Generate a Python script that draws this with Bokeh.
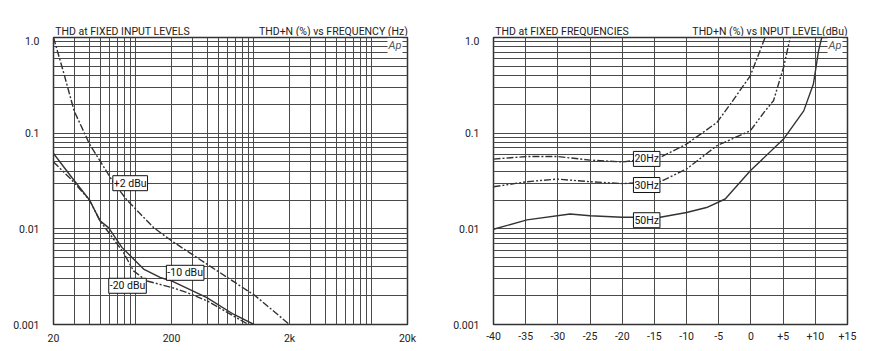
from bokeh.plotting import figure
from bokeh.models import FixedTicker, Label
from bokeh.layouts import row, column
from bokeh.embed import file_html
from bokeh.resources import INLINE

FONT = "Roboto"
INK = "#333333"
GRID = "#4a4a4a"
TXT = "#222222"

# ---------------- Left chart data: THD+N (%) vs frequency (Hz) ----------------
freq_plus2 = [20, 24.4, 29.9, 40.4, 64.4, 83.8, 141, 200, 399, 1024, 2000]
thd_plus2 = [1.0, 0.428, 0.171, 0.0769, 0.0305, 0.020, 0.0103, 0.0075, 0.00428, 0.0020, 0.001]

freq_minus10 = [20, 28.6, 40.4, 49.6, 58.5, 76, 116, 160, 200, 399, 670, 1000]
thd_minus10 = [0.0613, 0.0344, 0.020, 0.0121, 0.0103, 0.0064, 0.0038, 0.0031, 0.00286, 0.00191, 0.00128, 0.001]

freq_minus20 = [20, 28.6, 40.4, 49.6, 78.3, 95.3, 123, 200, 270, 399, 670, 898]
thd_minus20 = [0.050, 0.0324, 0.020, 0.0121, 0.00566, 0.00364, 0.00286, 0.00244, 0.00216, 0.00177, 0.00123, 0.001]

freq_ticks = [20, 200, 2000, 20000]
freq_tick_labels = ["20", "200", "2k", "20k"]
freq_grid = [20, 30, 40, 50, 60, 70, 80, 90, 100, 200, 300, 400, 500, 600, 700, 800, 900,
             1000, 2000, 3000, 4000, 5000, 6000, 7000, 8000, 9000, 10000, 20000]

thd_ticks = [0.001, 0.01, 0.1, 1.0]
thd_tick_labels = ["0.001", "0.01", "0.1", "1.0"]
thd_grid = [0.001, 0.002, 0.003, 0.004, 0.005, 0.006, 0.007, 0.008, 0.009,
            0.01, 0.02, 0.03, 0.04, 0.05, 0.06, 0.07, 0.08, 0.09,
            0.1, 0.2, 0.3, 0.4, 0.5, 0.6, 0.7, 0.8, 0.9, 1.0]

left_labels = ["+2 dBu", "-10 dBu", "-20 dBu"]
left_label_x = [89.3, 261, 84.8]
left_label_y = [0.030, 0.00347, 0.00254]

# ---------------- Right chart data: THD+N (%) vs input level (dBu) ----------------
lvl_20hz = [-40, -34.8, -30.1, -25, -20, -14.1, -10, -5.3, -3.2, -0.1, 2.2]
thd_20hz = [0.0536, 0.0570, 0.057, 0.0523, 0.050, 0.0558, 0.077, 0.129, 0.201, 0.398, 1.0]

lvl_30hz = [-40, -34.8, -30.1, -25, -20, -14.1, -10, -5.3, -0.1, 2.2, 3.5, 5.06, 6.1]
thd_30hz = [0.0275, 0.0311, 0.0331, 0.0311, 0.0297, 0.0311, 0.0422, 0.0739, 0.106, 0.171, 0.218, 0.486, 1.0]

lvl_50hz = [-40, -34.8, -28.1, -25, -20, -14.1, -10, -6.9, -4.0, -0.1, 5.06, 8.2, 9.7, 10.5, 11.0]
thd_50hz = [0.0099, 0.0124, 0.0143, 0.0137, 0.0132, 0.0132, 0.0148, 0.0167, 0.0205, 0.0404, 0.0868, 0.171, 0.326, 0.726, 1.0]

level_ticks = [-40, -35, -30, -25, -20, -15, -10, -5, 0, 5, 10, 15]
level_tick_labels = ["-40", "-35", "-30", "-25", "-20", "-15", "-10", "-5", "0", "+5", "+10", "+15"]

right_labels = ["20Hz", "30Hz", "50Hz"]
right_label_x = [-16.2, -16.2, -16.2]
right_label_y = [0.0538, 0.0287, 0.0123]

titles_left = ["THD at FIXED INPUT LEVELS", "THD at FIXED FREQUENCIES"]
titles_right = ["THD+N (%) vs FREQUENCY (Hz)", "THD+N (%) vs INPUT LEVEL(dBu)"]

DASH_DOT = "7 2 2 2"
DASH_DOT_DOT = "7 2 2 2 2 2"

TITLE_H = 36

# ---------------- title strip ----------------
tf = figure(width=871, height=TITLE_H, x_range=(0, 871), y_range=(0, TITLE_H),
            min_border=0, output_backend="svg", toolbar_location=None)
tf.axis.visible = False
tf.grid.visible = False
tf.outline_line_color = None
tf.background_fill_color = "white"
tf.border_fill_color = "white"
for i, (tl, tr) in enumerate(zip(titles_left, titles_right)):
    x0 = 53.3 + i * 440
    tf.add_layout(Label(x=x0 + 1.5, y=TITLE_H - 30.5, text=tl, text_font=FONT,
                        text_font_size="10.5px", text_color=TXT,
                        text_baseline="middle", text_align="left"))
    tf.add_layout(Label(x=x0 + 354, y=TITLE_H - 30.5, text=tr, text_font=FONT,
                        text_font_size="10.5px", text_color=TXT,
                        text_baseline="middle", text_align="right"))


def make_fig(x_type, x_range, border_right):
    p = figure(frame_width=354, frame_height=287, x_axis_type=x_type, y_axis_type="log",
               x_range=x_range, y_range=(0.001, 1.0),
               min_border_left=53, min_border_right=border_right,
               min_border_top=1, min_border_bottom=351 - TITLE_H - 1 - 287,
               output_backend="svg", toolbar_location=None)
    p.background_fill_color = "white"
    p.border_fill_color = "white"
    p.outline_line_color = INK
    p.outline_line_width = 1.5

    yt = FixedTicker(ticks=thd_ticks, minor_ticks=thd_grid)
    p.yaxis.ticker = yt
    p.ygrid.ticker = yt
    p.yaxis.major_label_overrides = {v: s for v, s in zip(thd_ticks, thd_tick_labels)}

    for ax in (p.xaxis[0], p.yaxis[0]):
        ax.axis_line_color = None
        ax.major_tick_line_color = None
        ax.minor_tick_line_color = None
        ax.major_label_text_font = FONT
        ax.major_label_text_font_size = "10.5px"
        ax.major_label_text_color = TXT
    p.yaxis.major_label_standoff = 8
    p.xaxis.major_label_standoff = 1

    for g in (p.xgrid[0], p.ygrid[0]):
        g.grid_line_color = GRID
        g.grid_line_width = 1
        g.minor_grid_line_color = GRID
        g.minor_grid_line_width = 1

    p.add_layout(Label(x=349, y=279, x_units="screen", y_units="screen", text="Ap",
                       text_font=FONT, text_font_style="italic", text_font_size="11px",
                       text_color="#555555", text_baseline="middle", text_align="right",
                       background_fill_color="white", padding=1))
    return p


def add_box_labels(p, texts, xs, ys):
    for t, x, y in zip(texts, xs, ys):
        p.add_layout(Label(x=x, y=y, text=t, text_font=FONT, text_font_size="10.5px",
                           text_color="#111111", text_align="center", text_baseline="middle",
                           background_fill_color="white", border_line_color="#111111",
                           border_line_width=1, padding=1))


# Left chart
p1 = make_fig("log", (20, 20000), 33)
xt = FixedTicker(ticks=freq_ticks, minor_ticks=freq_grid)
p1.xaxis.ticker = xt
p1.xgrid.ticker = xt
p1.xaxis.major_label_overrides = {v: s for v, s in zip(freq_ticks, freq_tick_labels)}

p1.line(freq_plus2, thd_plus2, line_color=INK, line_width=1.4, line_dash=DASH_DOT)
p1.line(freq_minus10, thd_minus10, line_color=INK, line_width=1.4)
p1.line(freq_minus20, thd_minus20, line_color=INK, line_width=1.4, line_dash=DASH_DOT_DOT)
add_box_labels(p1, left_labels, left_label_x, left_label_y)

# Right chart
p2 = make_fig("linear", (-40, 15), 24)
lt = FixedTicker(ticks=level_ticks)
p2.xaxis.ticker = lt
p2.xgrid.ticker = lt
p2.xaxis.major_label_overrides = {v: s for v, s in zip(level_ticks, level_tick_labels)}

p2.line(lvl_20hz, thd_20hz, line_color=INK, line_width=1.4, line_dash=DASH_DOT)
p2.line(lvl_30hz, thd_30hz, line_color=INK, line_width=1.4, line_dash=DASH_DOT_DOT)
p2.line(lvl_50hz, thd_50hz, line_color=INK, line_width=1.4)
add_box_labels(p2, right_labels, right_label_x, right_label_y)

layout = column(tf, row(p1, p2))
open("out.html", "w").write(file_html(layout, INLINE))
